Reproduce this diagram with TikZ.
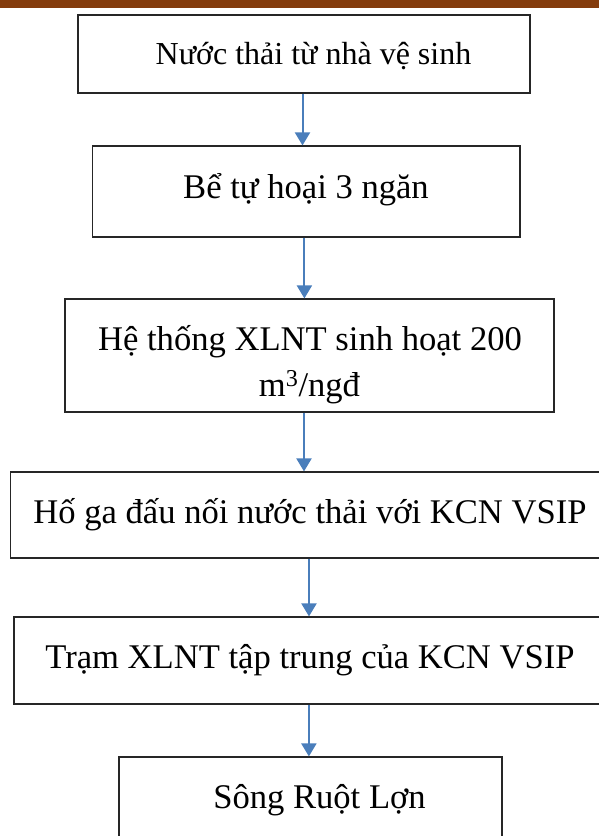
\documentclass[tikz,border=0pt]{standalone}
\usepackage{fontspec}
\setmainfont{Liberation Serif}
\usetikzlibrary{arrows.meta}
\definecolor{barbrown}{HTML}{843C0C}
\definecolor{flowblue}{HTML}{4A7EBB}
\begin{document}
\begin{tikzpicture}[x=1pt,y=-1pt,
  stagebox/.style={draw=black!85,line width=1.2pt,rectangle,inner sep=0pt},
  label/.style={anchor=base,inner sep=0pt,font=\fontsize{34.6}{46}\selectfont},
  smalllabel/.style={label,font=\fontsize{32}{40}\selectfont},
  flow/.style={draw=flowblue,line width=2pt,-{Triangle[width=15pt,length=13pt]}}]
\useasboundingbox (0,0) rectangle (599,836);
\clip (0,0) rectangle (599,836);
% header band
\fill[barbrown] (0,0) rectangle (599,8);
% process stages
\node[stagebox,minimum width=452pt,minimum height=78pt] (b1) at (304,54) {};
\node[stagebox,minimum width=427.6pt,minimum height=91pt] (b2) at (306.2,191.5) {};
\node[stagebox,minimum width=489pt,minimum height=113pt] (b3) at (309.5,355.5) {};
\node[stagebox,minimum width=595.3pt,minimum height=86pt] (b4) at (308.4,515) {};
\node[stagebox,minimum width=590pt,minimum height=87pt] (b5) at (308.9,660.5) {};
\node[stagebox,minimum width=383pt,minimum height=88pt] (b6) at (310.5,801) {};
% stage labels
\node[smalllabel] (t1) at (313.5,64) {Nước thải từ nhà vệ sinh};
\node[label] (t2) at (306,198) {Bể tự hoại 3 ngăn};
\node[label] (t3a) at (310,350) {Hệ thống XLNT sinh hoạt 200};
\node[label] (t3b) at (309.5,396) {m\textsuperscript{3}/ngđ};
\node[label] (t4) at (310,523) {Hố ga đấu nối nước thải với KCN VSIP};
\node[label] (t5) at (310,668) {Trạm XLNT tập trung của KCN VSIP};
\node[label] (t6) at (319.5,808) {Sông Ruột Lợn};
% flow arrows
\draw[flow] ([xshift=-1.5pt]b1.south) -- ([xshift=-1.5pt]b1.south |- b2.north);
\draw[flow] ([xshift=-1.8pt]b2.south) -- ([xshift=-1.8pt]b2.south |- b3.north);
\draw[flow] ([xshift=-5.5pt]b3.south) -- ([xshift=-5.5pt]b3.south |- b4.north);
\draw[flow] ([xshift=0.6pt]b4.south) -- ([xshift=0.6pt]b4.south |- b5.north);
\draw[flow] (b5.south) -- (b5.south |- b6.north);
\end{tikzpicture}
\end{document}
